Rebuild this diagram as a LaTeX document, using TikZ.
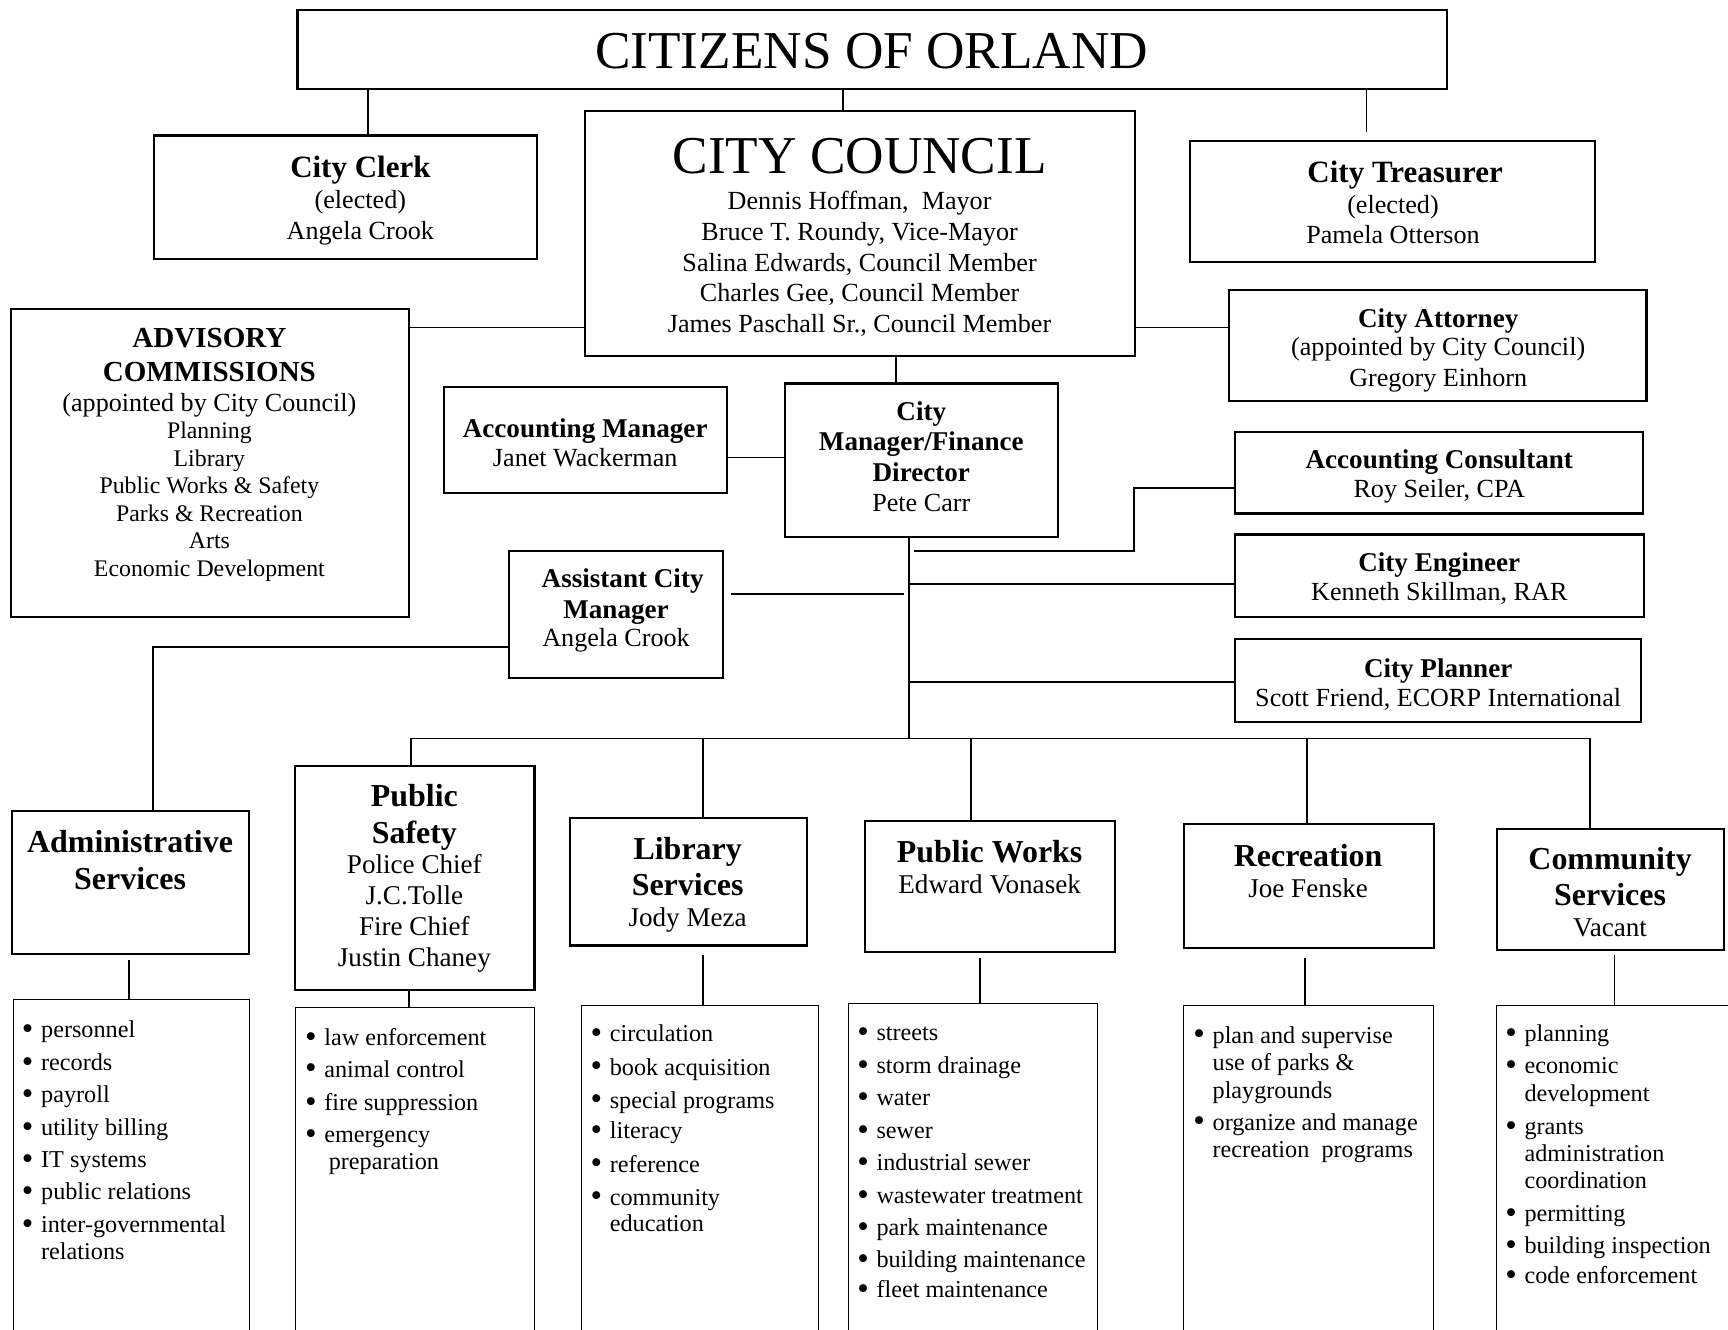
\documentclass[tikz,border=0pt]{standalone}
\usepackage{fontspec}
\setmainfont{Liberation Serif}
\newcount\tlc
\newcommand\bx[6][box]{%
 \pgfmathsetmacro\cx{(#3+#5)/2}\pgfmathsetmacro\cy{(#4+#6)/2}%
 \pgfmathsetmacro\ww{(#5-#3)*0.02}\pgfmathsetmacro\hh{(#6-#4)*0.02}%
 \node[#1, minimum width=\ww cm, minimum height=\hh cm] (#2) at (\cx,\cy) {};}
\newcommand\tl[4]{\global\advance\tlc by 1
 \edef\tmpx{\noexpand\node[tx,\unexpanded{#1}] (t\the\tlc) at (#2,#3) {\unexpanded{#4}};}\tmpx}
\newcommand\bigbul{{\fontsize{17}{14}\selectfont\raisebox{-0.9pt}{\textbullet}}}
\newcommand\bl[3]{\tl{lt}{#1}{#2}{\llap{\bigbul\hspace{4pt}}#3}}
\newcommand\cl[3]{\tl{lt}{#1}{#2}{#3}}
\begin{document}
\begin{tikzpicture}[x=0.02cm,y=-0.02cm,
 box/.style={draw, line width=1.1pt, inner sep=0pt},
 lbox/.style={draw, line width=0.5pt, inner sep=0pt},
 conn/.style={line width=0.8pt},
 tx/.style={anchor=base, inner sep=0pt, yshift=-0.04cm},
 bigt/.style={font=\fontsize{27.5}{30}\selectfont},
 rg/.style={font=\fontsize{13.5}{16}\selectfont},
 rgd/.style={font=\fontsize{14}{16}\selectfont},
 hb/.style={font=\fontsize{16}{18}\selectfont\bfseries},
 mb/.style={font=\fontsize{14}{16}\selectfont\bfseries},
 ab/.style={font=\fontsize{15}{17}\selectfont\bfseries},
 db/.style={font=\fontsize{16.5}{18}\selectfont\bfseries},
 cmt/.style={font=\fontsize{12.3}{14}\selectfont},
 lt/.style={anchor=base west, yshift=-0.03cm, font=\fontsize{12.5}{14}\selectfont}]
\useasboundingbox (0,0) rectangle (1568,1206);
\fill[white] (0,0) rectangle (1568,1206);

% boxes
\bx{cit}{270}{9}{1313}{81}
\bx{clerk}{140}{123}{487}{235}
\bx{council}{531}{101}{1030}{323}
\bx{treas}{1080}{128}{1447}{238}
\bx{adv}{10}{280}{371}{560}
\bx{att}{1115}{263}{1494}{364}
\bx{acct}{403}{351}{660}{447}
\bx{mgr}{712}{348}{960}{487}
\bx{cons}{1121}{392}{1491}{466}
\bx{eng}{1121}{485}{1492}{560}
\bx{plan}{1121}{580}{1489}{655}
\bx{asst}{462}{500}{656}{615}
\bx{admin}{11}{736}{226}{866}
\bx{ps}{268}{695}{485}{898}
\bx{lib}{517}{742}{732}{858}
\bx{pw}{785}{745}{1012}{864}
\bx{rec}{1074}{748}{1301}{860}
\bx{com}{1358}{752}{1564}{862}
\bx[lbox]{adminL}{12}{907}{226}{1230}
\bx[lbox]{psL}{268}{914}{485}{1230}
\bx[lbox]{libL}{528}{912}{743}{1230}
\bx[lbox]{pwL}{770}{911}{996}{1230}
\bx[lbox]{recL}{1074}{912}{1301}{1230}
\bx[lbox]{comL}{1358}{912}{1580}{1230}

% guides
\coordinate (xCl) at (334,0);
\coordinate (xCo) at (765,0);
\coordinate (xTr) at (1240,0);
\coordinate (xCM) at (813,0);
\coordinate (xT) at (825,0);
\coordinate (xJ) at (1029,0);
\coordinate (xAd) at (139,0);
\coordinate (xPS) at (373,0);
\coordinate (xLb) at (638,0);
\coordinate (xPW) at (881,0);
\coordinate (xRc) at (1186,0);
\coordinate (xCS) at (1443,0);
\coordinate (yCA) at (0,297);
\coordinate (yAM) at (0,415);
\coordinate (yA) at (0,500);
\coordinate (yB) at (0,443);
\coordinate (yE) at (0,530);
\coordinate (yP) at (0,619);
\coordinate (yAs) at (0,539);
\coordinate (yAd) at (0,587);
\coordinate (yBus) at (0,670);
\coordinate (la) at (117,0);
\coordinate (lp) at (371,0);
\coordinate (ll) at (638,0);
\coordinate (lw) at (889,0);
\coordinate (lr) at (1184,0);
\coordinate (lc) at (1465,0);

% connectors
\draw[conn] (cit.south -| xCl) -- (clerk.north -| xCl);
\draw[conn] (cit.south -| xCo) -- (council.north -| xCo);
\draw[conn, shorten >=0.14cm] (cit.south -| xTr) -- (treas.north -| xTr);
\draw[conn] (adv.east |- yCA) -- (council.west |- yCA);
\draw[conn] (council.east |- yCA) -- (att.west |- yCA);
\draw[conn] (council.south -| xCM) -- (mgr.north -| xCM);
\draw[conn] (acct.east |- yAM) -- (mgr.west |- yAM);
\draw[conn] (mgr.south -| xT) -- (yBus -| xT);
\draw[conn, shorten <=0.08cm] (yA -| xT) -| (xJ |- yB) -- (cons.west |- yB);
\draw[conn] (yE -| xT) -- (eng.west |- yE);
\draw[conn] (yP -| xT) -- (plan.west |- yP);
\draw[conn, shorten <=0.12cm, shorten >=0.1cm] (asst.east |- yAs) -- (yAs -| xT);
\draw[conn] (asst.west |- yAd) -| (admin.north -| xAd);
\draw[conn] (yBus -| xPS) -- (yBus -| xCS);
\draw[conn] (yBus -| xPS) -- (ps.north -| xPS);
\draw[conn] (yBus -| xLb) -- (lib.north -| xLb);
\draw[conn] (yBus -| xPW) -- (pw.north -| xPW);
\draw[conn] (yBus -| xRc) -- (rec.north -| xRc);
\draw[conn] (yBus -| xCS) -- (com.north -| xCS);
\draw[conn, shorten <=0.08cm] (admin.south -| la) -- (adminL.north -| la);
\draw[conn] (ps.south -| lp) -- (psL.north -| lp);
\draw[conn, shorten <=0.16cm] (lib.south -| ll) -- (libL.north -| ll);
\draw[conn, shorten <=0.08cm] (pw.south -| lw) -- (pwL.north -| lw);
\draw[conn, shorten <=0.16cm] (rec.south -| lr) -- (recL.north -| lr);
\draw[conn, shorten <=0.08cm] (com.south -| lc) -- (comL.north -| lc);

% texts
\tl{bigt}{791}{60}{CITIZENS OF ORLAND}
\tl{bigt}{780}{155}{CITY COUNCIL}
\tl{rg}{780}{188}{Dennis Hoffman,\ \ Mayor}
\tl{rg}{780}{216}{Bruce T. Roundy, Vice-Mayor}
\tl{rg}{780}{244}{Salina Edwards, Council Member}
\tl{rg}{780}{272}{Charles Gee, Council Member}
\tl{rg}{780}{300}{James Paschall Sr., Council Member}

\tl{hb}{327}{159}{City Clerk}
\tl{rg}{327}{187}{(elected)}
\tl{rg}{327}{215}{Angela Crook}

\tl{hb}{1275}{164}{City Treasurer}
\tl{rg}{1264}{192}{(elected)}
\tl{rg}{1264}{219}{Pamela Otterson}

\tl{ab}{190}{313}{ADVISORY}
\tl{ab}{190}{344}{COMMISSIONS}
\tl{rg}{190}{371}{(appointed by City Council)}
\tl{cmt}{190}{396}{Planning}
\tl{cmt}{190}{421}{Library}
\tl{cmt}{190}{446}{Public Works \& Safety}
\tl{cmt}{190}{471}{Parks \& Recreation}
\tl{cmt}{190}{496}{Arts}
\tl{cmt}{190}{521}{Economic Development}

\tl{mb}{1305}{295}{City Attorney}
\tl{rg}{1305}{321}{(appointed by City Council)}
\tl{rg}{1305}{349}{Gregory Einhorn}

\tl{mb}{531}{395}{Accounting Manager}
\tl{rg}{531}{421}{Janet Wackerman}

\tl{mb}{836}{380}{City}
\tl{mb}{836}{407}{Manager/Finance}
\tl{mb}{836}{435}{Director}
\tl{rg}{836}{462}{Pete Carr}

\tl{mb}{1306}{423}{Accounting Consultant}
\tl{rg}{1306}{449}{Roy Seiler, CPA}
\tl{mb}{1306}{517}{City Engineer}
\tl{rg}{1306}{543}{Kenneth Skillman, RAR}
\tl{mb}{1305}{613}{City Planner}
\tl{rg}{1305}{639}{Scott Friend, ECORP International}

\tl{mb}{565}{531}{Assistant City}
\tl{mb}{559}{559}{Manager}
\tl{rg}{559}{585}{Angela Crook}

\tl{db}{118}{772}{Administrative}
\tl{db}{118}{805}{Services}
\tl{db}{376}{730}{Public}
\tl{db}{376}{763}{Safety}
\tl{rgd}{376}{791}{Police Chief}
\tl{rgd}{376}{819}{J.C.Tolle}
\tl{rgd}{376}{847}{Fire Chief}
\tl{rgd}{376}{875}{Justin Chaney}
\tl{db}{624}{778}{Library}
\tl{db}{624}{811}{Services}
\tl{rgd}{624}{839}{Jody Meza}
\tl{db}{898}{781}{Public Works}
\tl{rgd}{898}{809}{Edward Vonasek}
\tl{db}{1187}{784}{Recreation}
\tl{rgd}{1187}{812}{Joe Fenske}
\tl{db}{1461}{787}{Community}
\tl{db}{1461}{820}{Services}
\tl{rgd}{1461}{848}{Vacant}

% lists
\bl{37}{938}{personnel}
\bl{37}{968}{records}
\bl{37}{997}{payroll}
\bl{37}{1027}{utility billing}
\bl{37}{1056}{IT systems}
\bl{37}{1085}{public relations}
\bl{37}{1115}{inter-governmental}
\cl{37}{1139}{relations}

\bl{294}{945}{law enforcement}
\bl{294}{974}{animal control}
\bl{294}{1004}{fire suppression}
\bl{294}{1033}{emergency}
\cl{298}{1058}{preparation}

\bl{553}{942}{circulation}
\bl{553}{972}{book acquisition}
\bl{553}{1002}{special programs}
\bl{553}{1030}{literacy}
\bl{553}{1060}{reference}
\bl{553}{1090}{community}
\cl{553}{1114}{education}

\bl{795}{941}{streets}
\bl{795}{971}{storm drainage}
\bl{795}{1000}{water}
\bl{795}{1030}{sewer}
\bl{795}{1059}{industrial sewer}
\bl{795}{1089}{wastewater treatment}
\bl{795}{1118}{park maintenance}
\bl{795}{1147}{building maintenance}
\bl{795}{1174}{fleet maintenance}

\bl{1100}{943}{plan and supervise}
\cl{1100}{968}{use of parks \&}
\cl{1100}{993}{playgrounds}
\bl{1100}{1022}{organize and manage}
\cl{1100}{1047}{recreation\ \ programs}

\bl{1383}{942}{planning}
\bl{1383}{971}{economic}
\cl{1383}{996}{development}
\bl{1383}{1026}{grants}
\cl{1383}{1050}{administration}
\cl{1383}{1075}{coordination}
\bl{1383}{1105}{permitting}
\bl{1383}{1134}{building inspection}
\bl{1383}{1161}{code enforcement}
\end{tikzpicture}
\end{document}
